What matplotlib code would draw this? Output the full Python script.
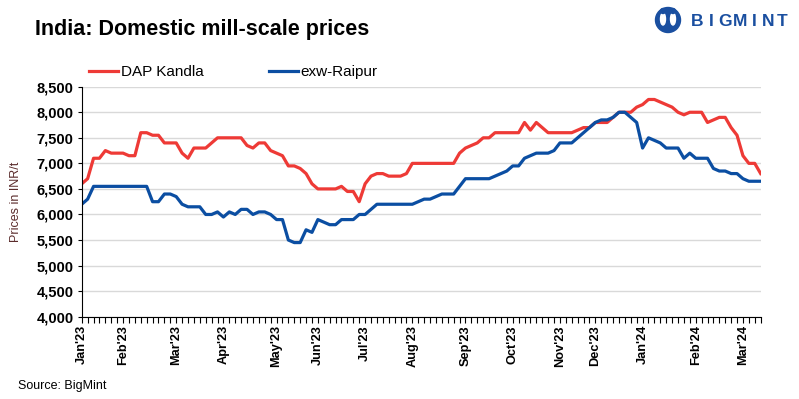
import numpy as np
import matplotlib.pyplot as plt
from matplotlib.patches import Circle, Ellipse

plt.rcParams['font.family'] = ['Liberation Sans', 'DejaVu Sans']

# Weekly-ish price observations (INR/t), one value per category
dap_kandla = [
    6600, 6700, 7100, 7100, 7250, 7200, 7200, 7200, 7150, 7150,
    7600, 7600, 7550, 7550, 7400, 7400, 7400, 7200, 7100, 7300,
    7300, 7300, 7400, 7500, 7500, 7500, 7500, 7500, 7350, 7300,
    7400, 7400, 7250, 7200, 7150, 6950, 6950, 6900, 6800, 6600,
    6500, 6500, 6500, 6500, 6550, 6450, 6450, 6250, 6600, 6750,
    6800, 6800, 6750, 6750, 6750, 6800, 7000, 7000, 7000, 7000,
    7000, 7000, 7000, 7000, 7200, 7300, 7350, 7400, 7500, 7500,
    7600, 7600, 7600, 7600, 7600, 7800, 7650, 7800, 7700, 7600,
    7600, 7600, 7600, 7600, 7650, 7700, 7700, 7800, 7800, 7800,
    7900, 8000, 8000, 8000, 8100, 8150, 8250, 8250, 8200, 8150,
    8100, 8000, 7950, 8000, 8000, 8000, 7800, 7850, 7900, 7900,
    7700, 7550, 7150, 7000, 7000, 6800,
]
exw_raipur = [
    6200, 6300, 6550, 6550, 6550, 6550, 6550, 6550, 6550, 6550,
    6550, 6550, 6250, 6250, 6400, 6400, 6350, 6200, 6150, 6150,
    6150, 6000, 6000, 6050, 5950, 6050, 6000, 6100, 6100, 6000,
    6050, 6050, 6000, 5900, 5900, 5500, 5450, 5450, 5700, 5650,
    5900, 5850, 5800, 5800, 5900, 5900, 5900, 6000, 6000, 6100,
    6200, 6200, 6200, 6200, 6200, 6200, 6200, 6250, 6300, 6300,
    6350, 6400, 6400, 6400, 6550, 6700, 6700, 6700, 6700, 6700,
    6750, 6800, 6850, 6950, 6950, 7100, 7150, 7200, 7200, 7200,
    7250, 7400, 7400, 7400, 7500, 7600, 7700, 7800, 7850, 7850,
    7900, 8000, 8000, 7900, 7800, 7300, 7500, 7450, 7400, 7300,
    7300, 7300, 7100, 7200, 7100, 7100, 7100, 6900, 6850, 6850,
    6800, 6800, 6700, 6650, 6650, 6650,
]
month_labels = ["Jan'23", "Feb'23", "Mar'23", "Apr'23", "May'23", "Jun'23",
                "Jul'23", "Aug'23", "Sep'23", "Oct'23", "Nov'23", "Dec'23",
                "Jan'24", "Feb'24", "Mar'24"]
month_pos = [0, 7, 16, 24, 33, 40, 48, 56, 65, 73, 81, 87, 95, 104, 112]

RED = '#ee3a36'
BLUE = '#0b4ea2'

n = len(dap_kandla)
x = np.arange(n)

fig = plt.figure(figsize=(7.99, 3.99), dpi=100)
ax = fig.add_axes([0.1023, 0.2063, 0.8497, 0.5764])

ax.plot(x, dap_kandla, color=RED, lw=2.3, label='DAP Kandla', solid_joinstyle='round')
ax.plot(x, exw_raipur, color=BLUE, lw=2.3, label='exw-Raipur', solid_joinstyle='round')

ax.set_xlim(0, n - 1)
ax.set_ylim(4000, 8500)
ax.set_yticks(np.arange(4000, 8501, 500))
ax.set_yticklabels([f'{v:,}' for v in range(4000, 8501, 500)], fontweight='bold', fontsize=10.5)

labels = [''] * n
for p, lab in zip(month_pos, month_labels):
    labels[p] = lab
ax.set_xticks(x)
ax.set_xticklabels(labels, rotation=90, fontweight='bold', fontsize=9.2)

ax.grid(axis='y', color='#d9d9d9', lw=1)
ax.set_axisbelow(True)
for s in ['top', 'right']:
    ax.spines[s].set_visible(False)
ax.spines['left'].set_color('black')
ax.spines['bottom'].set_color('black')
ax.tick_params(axis='x', direction='out', length=4, width=0.8, pad=2)
ax.tick_params(axis='y', direction='out', length=3, width=0.8, pad=3)

ax.set_ylabel('Prices in INR/t', fontsize=9, color='#5a2b2b', labelpad=10)

ax.legend(loc='lower left', bbox_to_anchor=(0.0, 1.0), ncol=2, frameon=False,
          fontsize=11, handlelength=1.9, handletextpad=0.15, columnspacing=4.3,
          borderaxespad=0.1)

fig.text(0.044, 0.925, 'India: Domestic mill-scale prices', fontsize=15.5,
         fontweight='bold', va='center', ha='left')
fig.text(0.022, 0.032, 'Source: BigMint', fontsize=9, va='center', ha='left')

# logo
ax_logo = fig.add_axes([0, 0, 1, 1], zorder=5)
ax_logo.set_xlim(0, 799)
ax_logo.set_ylim(399, 0)
ax_logo.axis('off')
ax_logo.add_patch(Circle((668, 20), 12.5, color='#1a4fa0'))
ax_logo.add_patch(Ellipse((663, 19), 5, 12, color='white'))
ax_logo.add_patch(Ellipse((673, 19), 5, 12, color='white'))
ax_logo.add_patch(Circle((663, 11), 2.5, color='#1a4fa0'))
ax_logo.add_patch(Circle((673, 11), 2.5, color='#1a4fa0'))
for i, ch in enumerate('BIGMINT'):
    ax_logo.text(697 + i * 14.2, 22, ch, fontsize=12.5, fontweight='bold',
                 color='#1a4fa0', ha='center', va='center')

fig.savefig('out.png', dpi=100)
